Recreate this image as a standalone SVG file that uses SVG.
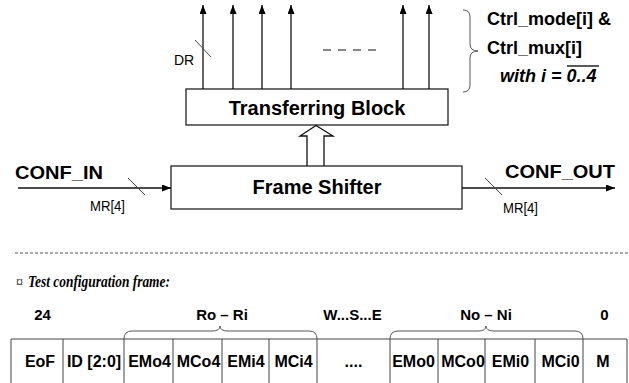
<svg xmlns="http://www.w3.org/2000/svg" width="629" height="383" viewBox="0 0 629 383">
<defs>
<marker id="ah" markerUnits="userSpaceOnUse" markerWidth="9" markerHeight="7" refX="9" refY="3.5" orient="auto">
<path d="M0,0 L9,3.5 L0,7 z" fill="#000"/>
</marker>
<style>
.box{fill:#fff;stroke:#222;stroke-width:1.3}
.ln{fill:none;stroke:#111;stroke-width:1.3}
.thin{fill:none;stroke:#444;stroke-width:1}
.br{fill:none;stroke:#555;stroke-width:1}
.t{font-family:"Liberation Sans",Arial,sans-serif;fill:#000}
.big{font-size:20px;font-weight:bold}
.sig{font-size:19px;font-weight:bold}
.sm{font-size:14px}
.cell{font-size:16px;font-weight:bold;text-anchor:middle}
.lab{font-size:15px;font-weight:bold;text-anchor:middle}
.ctrl{font-size:18px;font-weight:bold}
</style>
</defs>

<g id="transferring-block">
<rect class="box" x="186" y="89" width="262" height="36"/>
<text class="t big" x="317" y="115" text-anchor="middle">Transferring Block</text>
</g>

<g id="frame-shifter">
<rect class="box" x="171" y="166" width="291" height="43"/>
<text class="t big" x="317" y="194" text-anchor="middle">Frame Shifter</text>
</g>

<g id="connectors">
<line class="ln" x1="203" y1="89" x2="203" y2="5" marker-end="url(#ah)"/>
<line class="ln" x1="233" y1="89" x2="233" y2="5" marker-end="url(#ah)"/>
<line class="ln" x1="262" y1="89" x2="262" y2="5" marker-end="url(#ah)"/>
<line class="ln" x1="291" y1="89" x2="291" y2="5" marker-end="url(#ah)"/>
<line class="ln" x1="403" y1="89" x2="403" y2="5" marker-end="url(#ah)"/>
<line class="ln" x1="429" y1="89" x2="429" y2="5" marker-end="url(#ah)"/>
<line class="thin" x1="195" y1="40" x2="211" y2="57"/>
<line x1="323" y1="50" x2="378" y2="50" stroke="#111" stroke-width="1.2" stroke-dasharray="8,7"/>
<path class="ln" d="M307,166 L307,136 L300,136 L316,125.5 L333,136 L324,136 L324,166" fill="#fff"/>
<line class="ln" x1="18" y1="188" x2="171" y2="188" marker-end="url(#ah)"/>
<line class="thin" x1="128" y1="178" x2="145" y2="195"/>
<line class="ln" x1="462" y1="188" x2="615" y2="188" marker-end="url(#ah)"/>
<line class="thin" x1="485" y1="178" x2="502" y2="195"/>
</g>

<g id="labels">
<text class="t sm" x="174" y="65">DR</text>
<text class="t sig" x="15" y="179" textLength="88" lengthAdjust="spacingAndGlyphs">CONF_IN</text>
<text class="t sm" x="90" y="211" textLength="35" lengthAdjust="spacingAndGlyphs">MR[4]</text>
<text class="t sig" x="505" y="178" textLength="110" lengthAdjust="spacingAndGlyphs">CONF_OUT</text>
<text class="t sm" x="503" y="213" textLength="35" lengthAdjust="spacingAndGlyphs">MR[4]</text>
</g>

<g id="ctrl-brace">
<path class="br" d="M463,10 Q470,10 470,17 L470,44 Q470,51 478,51 Q470,51 470,58 L470,85 Q470,92 463,92"/>
<text class="t ctrl" x="487" y="25">Ctrl_mode[i] &amp;</text>
<text class="t ctrl" x="487" y="54">Ctrl_mux[i]</text>
<text class="t ctrl" x="500" y="82" font-style="italic">with i = 0..4</text>
<line x1="567" y1="66" x2="599" y2="66" stroke="#000" stroke-width="1.3"/>
</g>

<line x1="15" y1="253" x2="629" y2="253" stroke="#555" stroke-width="1" stroke-dasharray="3,2"/>

<g id="frame-title">
<text x="16" y="287" font-family="'Liberation Serif','Times New Roman',serif" font-size="14px">¤</text>
<text x="28" y="287" font-family="'Liberation Serif','Times New Roman',serif" font-size="16px" font-style="italic" font-weight="bold" textLength="142" lengthAdjust="spacingAndGlyphs">Test configuration frame:</text>
</g>

<g id="frame-labels">
<text class="t lab" x="42.5" y="320">24</text>
<text class="t lab" x="222" y="320">Ro – Ri</text>
<text class="t lab" x="352.5" y="320">W...S...E</text>
<text class="t lab" x="486" y="320">No – Ni</text>
<text class="t lab" x="604.5" y="320">0</text>
</g>

<g id="frame-table">
<line class="thin" x1="11" y1="339" x2="627" y2="339"/>
<path class="thin" d="M11,339V383 M63,339V383 M124,339V383 M173,339V383 M222,339V383 M269,339V383 M317,339V383 M390,339V383 M438,339V383 M485,339V383 M535,339V383 M583,339V383 M627,339V383"/>
<path class="br" d="M124,339 Q124,331 132,331 L212,331 Q220,331 220,326 Q220,331 228,331 L309,331 Q317,331 317,339"/>
<path class="br" d="M390,339 Q390,331 398,331 L478,331 Q486,331 486,326 Q486,331 494,331 L575,331 Q583,331 583,339"/>
<text class="t cell" x="40" y="367">EoF</text>
<text class="t cell" x="94" y="367">ID [2:0]</text>
<text class="t cell" x="149.5" y="367">EMo4</text>
<text class="t cell" x="198.5" y="367">MCo4</text>
<text class="t cell" x="246" y="367">EMi4</text>
<text class="t cell" x="293.5" y="367">MCi4</text>
<text class="t cell" x="353.5" y="367">....</text>
<text class="t cell" x="413.5" y="367">EMo0</text>
<text class="t cell" x="463" y="367">MCo0</text>
<text class="t cell" x="510.5" y="367">EMi0</text>
<text class="t cell" x="560.5" y="367">MCi0</text>
<text class="t cell" x="603" y="367">M</text>
</g>
</svg>
